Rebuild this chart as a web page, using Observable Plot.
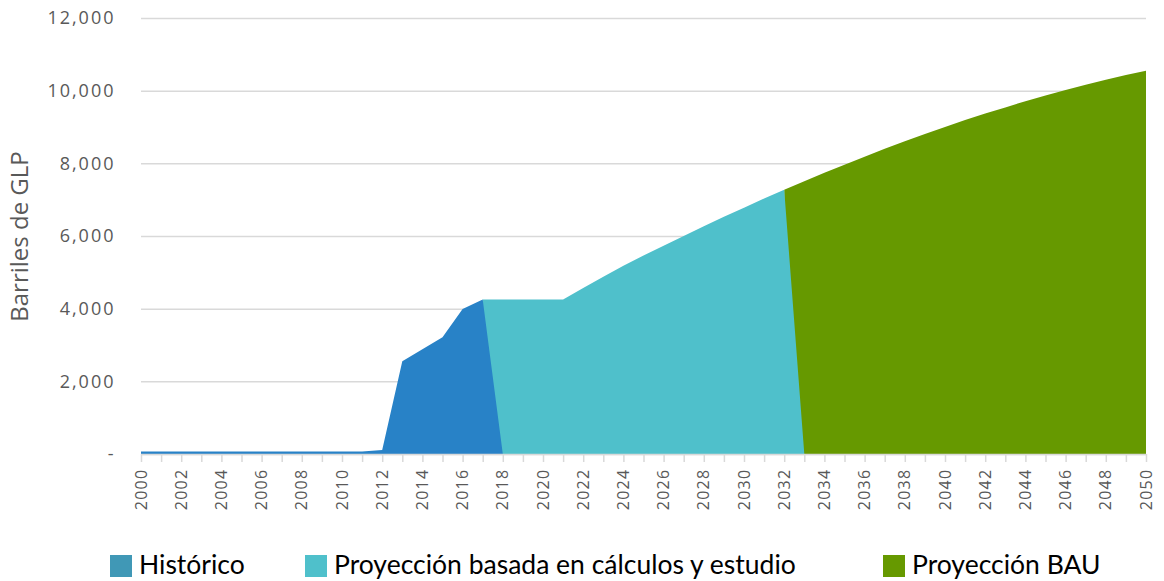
<!DOCTYPE html>
<html>
<head>
<meta charset="utf-8">
<script src="https://cdn.jsdelivr.net/npm/d3@7"></script>
<script src="https://cdn.jsdelivr.net/npm/@observablehq/plot@0.6"></script>
<style>
  html, body { margin: 0; padding: 0; background: #fff; }
  #wrap { position: relative; width: 1164px; height: 581px; overflow: hidden; }
  #legend { position: absolute; left: 0; top: 550px; width: 1164px; height: 28px; font-family: Lato, "Open Sans", sans-serif; font-size: 26.5px; line-height: 28px; color: #000; }
  .item { position: absolute; top: 0; display: flex; align-items: center; height: 28px; }
  .sw { width: 22px; height: 22px; margin-right: 7px; margin-top: 4px; }
  .ytick text { letter-spacing: 2px; }
  .xtick text { letter-spacing: 1.3px; }
</style>
</head>
<body>
<div id="wrap">
  <div id="chart"></div>
  <div id="legend"></div>
</div>
<script>
const seriesNames = ["Histórico", "Proyección basada en cálculos y estudio", "Proyección BAU"];
const seriesColors = ["#2882c7", "#4fc0cb", "#669900"];
const legendColors = ["#4098b6", "#4fc0cb", "#669900"];

const histYears = [2000,2001,2002,2003,2004,2005,2006,2007,2008,2009,2010,2011,2012,2013,2014,2015,2016,2017,2018];
const histValues = [70,70,70,70,70,70,70,70,70,70,70,70,110,2550,2880,3210,3990,4250,0];

const projYears = [2017,2018,2019,2020,2021,2022,2023,2024,2025,2026,2027,2028,2029,2030,2031,2032,2033];
const projValues = [4250,4250,4250,4250,4250,4570,4880,5180,5460,5730,6000,6270,6530,6780,7030,7270,0];

const bauYears = [2032,2033,2034,2035,2036,2037,2038,2039,2040,2041,2042,2043,2044,2045,2046,2047,2048,2049,2050];
const bauValues = [7270,7510,7740,7960,8180,8400,8610,8810,9000,9190,9370,9540,9710,9870,10020,10160,10300,10430,10550];

const yTicks = [0,2000,4000,6000,8000,10000,12000];
const xTickYears = d3.range(2000, 2051);

const toRows = (ys, vs) => ys.map((y, i) => ({year: y, value: vs[i]}));
const hist = toRows(histYears, histValues);
const proj = toRows(projYears, projValues);
const bau = toRows(bauYears, bauValues);

const fmt = d3.format(",");
const H = 520;

const chart = Plot.plot({
  width: 1164,
  height: H,
  marginLeft: 141,
  marginRight: 18,
  marginTop: 18,
  marginBottom: H - 454,
  style: {fontFamily: "'Open Sans', sans-serif", background: "#fff"},
  x: {domain: [2000, 2050]},
  y: {domain: [0, 12000]},
  marks: [
    Plot.gridY(yTicks, {stroke: "#d9d9d9", strokeOpacity: 1, strokeWidth: 1.5}),
    Plot.areaY(bau, {x: "year", y: "value", fill: seriesColors[2]}),
    Plot.areaY(proj, {x: "year", y: "value", fill: seriesColors[1]}),
    Plot.areaY(hist, {x: "year", y: "value", fill: seriesColors[0]}),
    Plot.ruleY([0], {stroke: "#d9d9d9", strokeWidth: 1.5}),
    Plot.axisY({ticks: yTicks, tickFormat: d => d === 0 ? "-" : fmt(d), tickSize: 0, tickPadding: 26, label: null, fontSize: 18, fill: "#595959", className: "ytick"}),
    Plot.axisX({ticks: xTickYears, tickFormat: d => d % 2 === 0 ? String(d) : "", tickRotate: -90, tickSize: 8, tickPadding: 6, stroke: "#d9d9d9", strokeWidth: 1.5, label: null, fontSize: 16, fill: "#595959", className: "xtick"}),
    Plot.text(["Barriles de GLP"], {frameAnchor: "left", text: d => d, rotate: -90, dx: -121, textAnchor: "middle", fontSize: 24, fill: "#595959"})
  ]
});
document.getElementById("chart").appendChild(chart);

const legendX = [110, 305, 883];
const legend = document.getElementById("legend");
seriesNames.forEach((name, i) => {
  const it = document.createElement("div");
  it.className = "item";
  it.style.left = legendX[i] + "px";
  it.innerHTML = `<div class="sw" style="background:${legendColors[i]}"></div><span>${name}</span>`;
  legend.appendChild(it);
});
</script>
</body>
</html>
